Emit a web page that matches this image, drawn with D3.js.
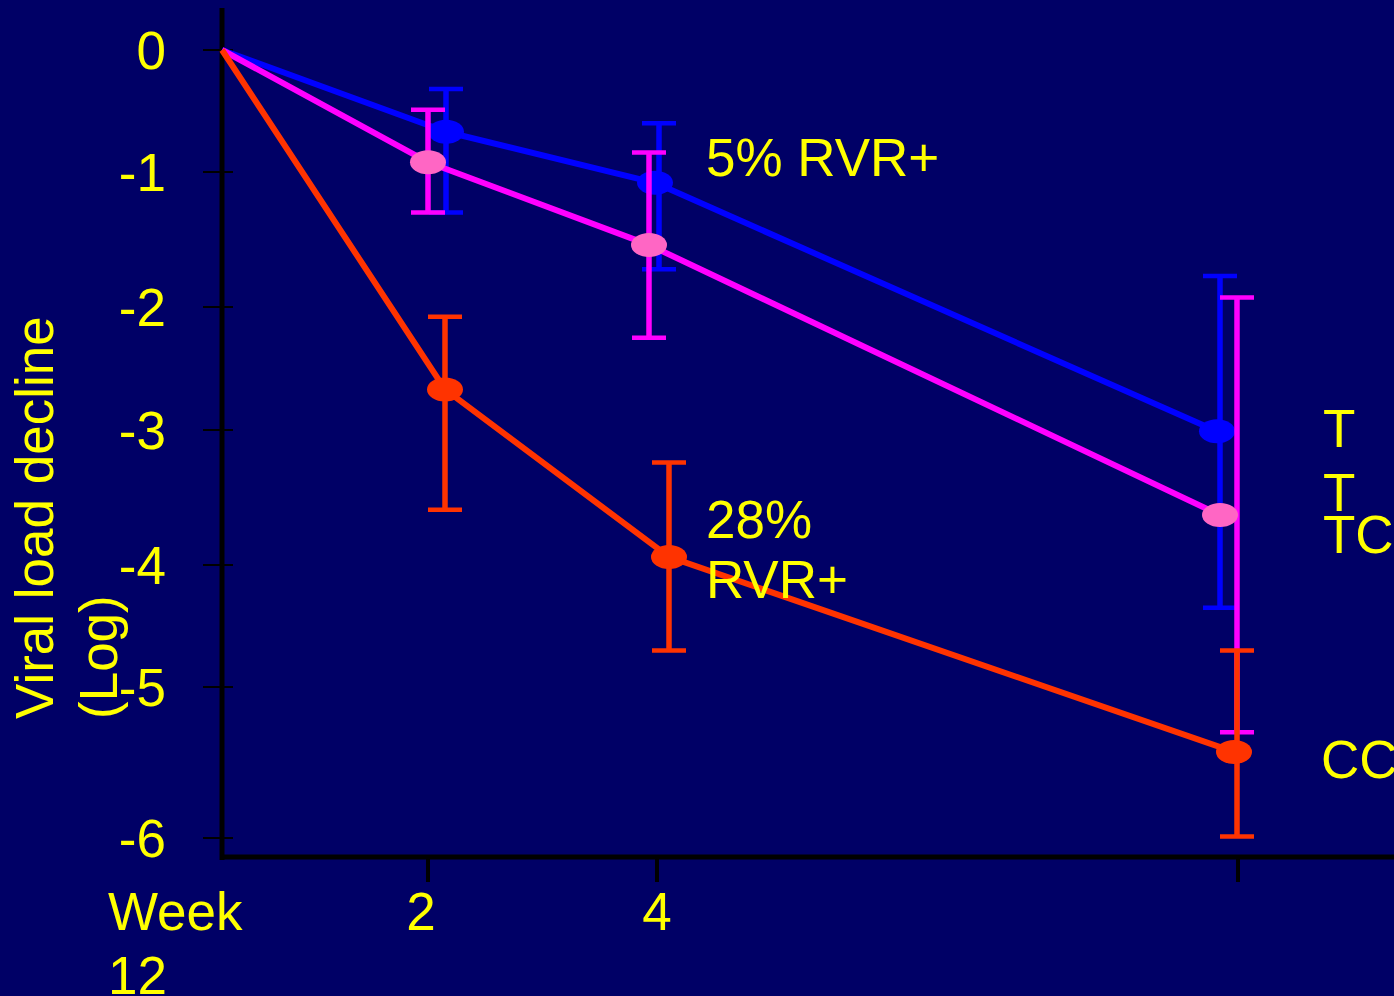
<!DOCTYPE html>
<html>
<head>
<meta charset="utf-8">
<script src="https://cdn.jsdelivr.net/npm/d3@7"></script>
<style>
  html, body { margin: 0; padding: 0; background: #000066; }
  svg { display: block; }
</style>
</head>
<body>
<div class="chart"></div>
<script>
// data
let weeks = [0, 2, 4, 12];
let yTicks = [0, -1, -2, -3, -4, -5, -6];

let blueMean = [0, -0.67, -1.08, -3.01];
let blueLow  = [0, -1.30, -1.72, -4.35];
let blueHigh = [0, -0.32, -0.60, -1.77];

let pinkMean = [0, -0.92, -1.54, -3.63];
let pinkLow  = [0, -1.30, -2.25, -5.30];
let pinkHigh = [0, -0.49, -0.84, -1.93];

let redMean = [0, -2.67, -3.94, -5.43];
let redLow  = [0, -3.59, -4.70, -5.99];
let redHigh = [0, -2.08, -3.24, -4.70];

let sideLabels = ["T", "T", "TC", "CC"];

// layout
let W = 1394, H = 996;
let fontFam = "'Liberation Sans', Arial, sans-serif";
let fontSize = "53px";
let yellow = "#ffff00";

let viz = d3.select(".chart").append("svg")
  .attr("width", W).attr("height", H)
  .style("background-color", "#000066");

// the slide's axes are not evenly spaced, so piecewise scales
let xScale = d3.scaleLinear().domain(weeks).range([222, 428, 657, 1238]);
let yScale = d3.scaleLinear().domain(yTicks).range([50, 172, 307, 430, 565, 687, 838]);

// pixel nudges so the overlapping series don't sit on top of each other
let series = [
  {mean: blueMean, low: blueLow, high: blueHigh, line: "#0000ff", dot: "#0000ff", bar: "#0000ff",
   dodge: [0, 18, -2, -21], barDodge: [0, 18, 2, -18]},
  {mean: pinkMean, low: pinkLow, high: pinkHigh, line: "#ff00ff", dot: "#ff66c4", bar: "#ff00ff",
   dodge: [0, 0, -8, -18], barDodge: [0, 0, -8, -1]},
  {mean: redMean, low: redLow, high: redHigh, line: "#ff3300", dot: "#ff3300", bar: "#ff3300",
   dodge: [0, 17, 12, -4], barDodge: [0, 17, 12, -1]}
];

// axes
viz.append("line")
  .attr("x1", xScale(0)).attr("x2", xScale(0))
  .attr("y1", 8).attr("y2", 860)
  .attr("stroke", "black").attr("stroke-width", 5);
viz.append("line")
  .attr("x1", xScale(0) - 2).attr("x2", W)
  .attr("y1", 857).attr("y2", 857)
  .attr("stroke", "black").attr("stroke-width", 5);

viz.selectAll(".ytick").data(yTicks).enter().append("line")
  .attr("class", "ytick")
  .attr("x1", 203).attr("x2", 233)
  .attr("y1", d => yScale(d)).attr("y2", d => yScale(d))
  .attr("stroke", "black").attr("stroke-width", 2);

viz.selectAll(".ylabel").data(yTicks).enter().append("text")
  .attr("class", "ylabel")
  .attr("x", 166)
  .attr("y", d => yScale(d) + 19)
  .attr("text-anchor", "end")
  .attr("fill", yellow)
  .style("font-family", fontFam).style("font-size", fontSize)
  .text(d => d);

viz.selectAll(".xtick").data(weeks.slice(1)).enter().append("line")
  .attr("class", "xtick")
  .attr("x1", d => xScale(d)).attr("x2", d => xScale(d))
  .attr("y1", 859).attr("y2", 882)
  .attr("stroke", "black").attr("stroke-width", 4);

let xLabelNudge = {2: -7, 4: 0};
viz.selectAll(".xlabel").data([2, 4]).enter().append("text")
  .attr("class", "xlabel")
  .attr("x", d => xScale(d) + xLabelNudge[d])
  .attr("y", 930)
  .attr("text-anchor", "middle")
  .attr("fill", yellow)
  .style("font-family", fontFam).style("font-size", fontSize)
  .text(d => d);

viz.append("text").attr("x", 108).attr("y", 930)
  .attr("fill", yellow)
  .style("font-family", fontFam).style("font-size", fontSize)
  .text("Week");
viz.append("text").attr("x", 108).attr("y", 994)
  .attr("fill", yellow)
  .style("font-family", fontFam).style("font-size", fontSize)
  .text("12");

// y axis title, two lines
let yTitle = viz.append("text")
  .attr("transform", "translate(53,719) rotate(-90)")
  .attr("fill", yellow)
  .style("font-family", fontFam).style("font-size", fontSize);
yTitle.append("tspan").attr("x", 0).attr("y", 0).text("Viral load decline");
yTitle.append("tspan").attr("x", 0).attr("y", 64).text("(Log)");

// series
let lineGen = d3.line()
  .x(d => xScale(d.week) + d.dodge)
  .y(d => yScale(d.value));

series.forEach(function(s){
  let pts = weeks.map(function(w, i){
    return {week: w, value: s.mean[i], low: s.low[i], high: s.high[i],
            dodge: s.dodge[i], barDodge: s.barDodge[i]};
  });
  let withBars = pts.slice(1);
  let g = viz.append("g");

  g.selectAll(".bar").data(withBars).enter().append("line")
    .attr("x1", d => xScale(d.week) + d.barDodge).attr("x2", d => xScale(d.week) + d.barDodge)
    .attr("y1", d => yScale(d.high)).attr("y2", d => yScale(d.low))
    .attr("stroke", s.bar).attr("stroke-width", 5.5);
  g.selectAll(".capTop").data(withBars).enter().append("line")
    .attr("x1", d => xScale(d.week) + d.barDodge - 17).attr("x2", d => xScale(d.week) + d.barDodge + 17)
    .attr("y1", d => yScale(d.high)).attr("y2", d => yScale(d.high))
    .attr("stroke", s.bar).attr("stroke-width", 4.5);
  g.selectAll(".capBot").data(withBars).enter().append("line")
    .attr("x1", d => xScale(d.week) + d.barDodge - 17).attr("x2", d => xScale(d.week) + d.barDodge + 17)
    .attr("y1", d => yScale(d.low)).attr("y2", d => yScale(d.low))
    .attr("stroke", s.bar).attr("stroke-width", 4.5);

  g.append("path").datum(pts)
    .attr("d", lineGen)
    .attr("fill", "none")
    .attr("stroke", s.line).attr("stroke-width", 6)
    .attr("stroke-linejoin", "round");

  g.selectAll(".dot").data(withBars).enter().append("ellipse")
    .attr("cx", d => xScale(d.week) + d.dodge)
    .attr("cy", d => yScale(d.value))
    .attr("rx", 18).attr("ry", 12)
    .attr("fill", s.dot);
});

// annotations
function note(x, y, txt){
  viz.append("text").attr("x", x).attr("y", y)
    .attr("fill", yellow)
    .style("font-family", fontFam).style("font-size", fontSize)
    .text(txt);
}
note(706, 176, "5% RVR+");
note(706, 538, "28%");
note(706, 598, "RVR+");
note(1323, 447, sideLabels[0]);
note(1323, 511, sideLabels[1]);
note(1323, 553, sideLabels[2]);
note(1321, 778, sideLabels[3]);
</script>
</body>
</html>
